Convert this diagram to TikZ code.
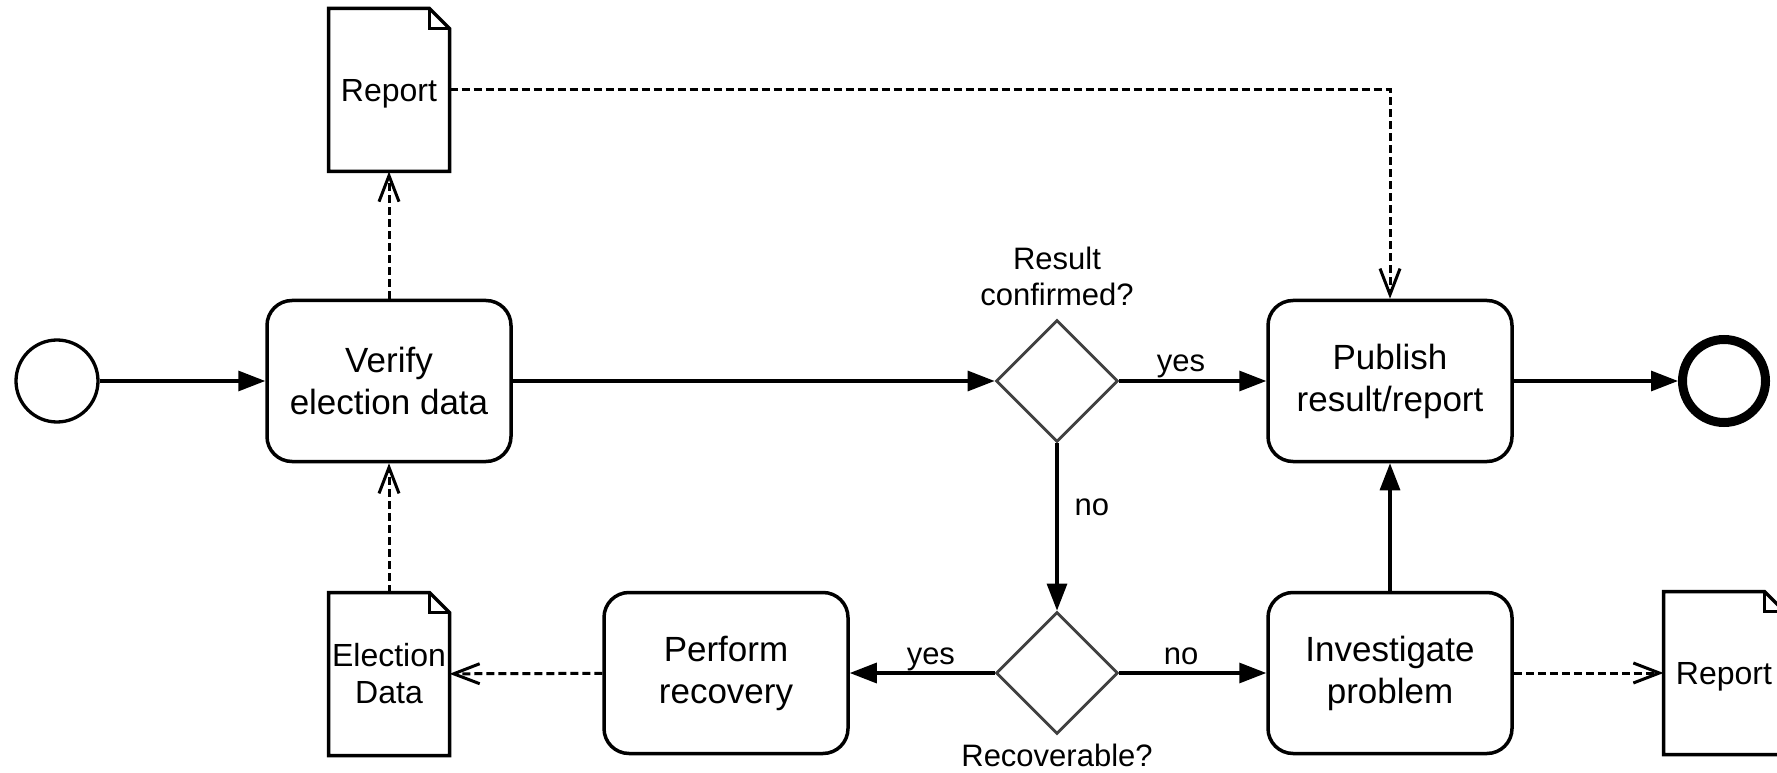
\documentclass[tikz,border=0pt]{standalone}
\usepackage{fontspec}
\setmainfont{Liberation Sans}
\usetikzlibrary{positioning,shapes.geometric,arrows.meta}

\tikzset{
  task/.style={rectangle, rounded corners=25pt, draw, line width=3.5pt, minimum width=244pt, minimum height=161pt, align=center, font=\fontsize{35}{42}\selectfont},
  gate/.style={diamond, aspect=1, draw=black!75, line width=2.8pt, minimum size=122pt, inner sep=0pt},
  doc/.style={rectangle, minimum width=121pt, minimum height=163pt, inner sep=0pt, outer sep=0pt, align=center, font=\fontsize{32}{37}\selectfont},
  startev/.style={circle, draw, line width=3.3pt, minimum size=82pt},
  endev/.style={circle, draw, line width=9pt, minimum size=83pt},
  flow/.style={line width=3.2pt, -{Triangle[length=27pt,width=20pt]}},
  assoc/.style={line width=3pt, dash pattern=on 8pt off 4pt, -{Straight Barb[length=26pt,width=20pt]}},
  lbl/.style={font=\fontsize{31}{36}\selectfont, inner sep=0pt, align=center},
  elbl/.style={lbl, anchor=base, yshift=9pt}
}

% page outline with folded corner round a doc node
\newcommand{\docfold}[1]{%
  \draw[line width=3.5pt, line join=miter] (#1.south west) -- (#1.north west) -- ([xshift=-20pt]#1.north east) -- ([yshift=-20pt]#1.north east) -- (#1.south east) -- cycle;
  \draw[line width=3.5pt] ([xshift=-20pt]#1.north east) |- ([yshift=-20pt]#1.north east);
}

\begin{document}
\begin{tikzpicture}[x=1pt, y=1pt]
  \useasboundingbox (0,0) rectangle (1777,772);
  \clip (0,0) rectangle (1777,772);
  \node[startev] (start) at (57,391) {};
  \node[task] (verify) at (389,391) {Verify\\election data};
  \node[doc, text depth=0pt] (rep1) at (389,682) {Report};
  \node[doc] (elecdata) at (389,98) {Election\\Data};
  \node[gate] (conf) at (1057,391) {};
  \node[gate] (recov) at (1057,99) {};
  \node[task] (publish) at (1390,391) {Publish\\result/report};
  \node[task] (invest) at (1390,99) {Investigate\\problem};
  \node[task] (perform) at (726,99) {Perform\\recovery};
  \node[doc, text depth=0pt] (rep2) at (1724,99) {Report};
  \node[endev] (finish) at (1724,391) {};
  \node[lbl, above=13pt of conf] (confq) {Result\\confirmed?};
  \node[lbl, below=8pt of recov] (recovq) {Recoverable?};
  \docfold{rep1}
  \docfold{elecdata}
  \docfold{rep2}
  % sequence flows
  \draw[flow] (start) -- (verify);
  \draw[flow] (verify) -- (conf);
  \draw[flow] (conf) -- node[elbl, pos=0.42] {yes} (publish);
  \draw[flow] (conf) -- node[lbl, pos=0.38, anchor=west, xshift=16pt] {no} (recov);
  \draw[flow] (recov) -- node[elbl, pos=0.42] {no} (invest);
  \draw[flow] (recov) -- node[elbl, pos=0.44] {yes} (perform);
  \draw[flow] (invest) -- (publish);
  \draw[flow] (publish) -- (finish);
  % data associations
  \draw[assoc] (verify) -- (rep1);
  \draw[assoc] (elecdata) -- (verify);
  \draw[assoc] (perform) -- (elecdata);
  \draw[assoc] (invest) -- (rep2);
  \draw[assoc] (rep1.east) -| (publish.north);
\end{tikzpicture}
\end{document}
